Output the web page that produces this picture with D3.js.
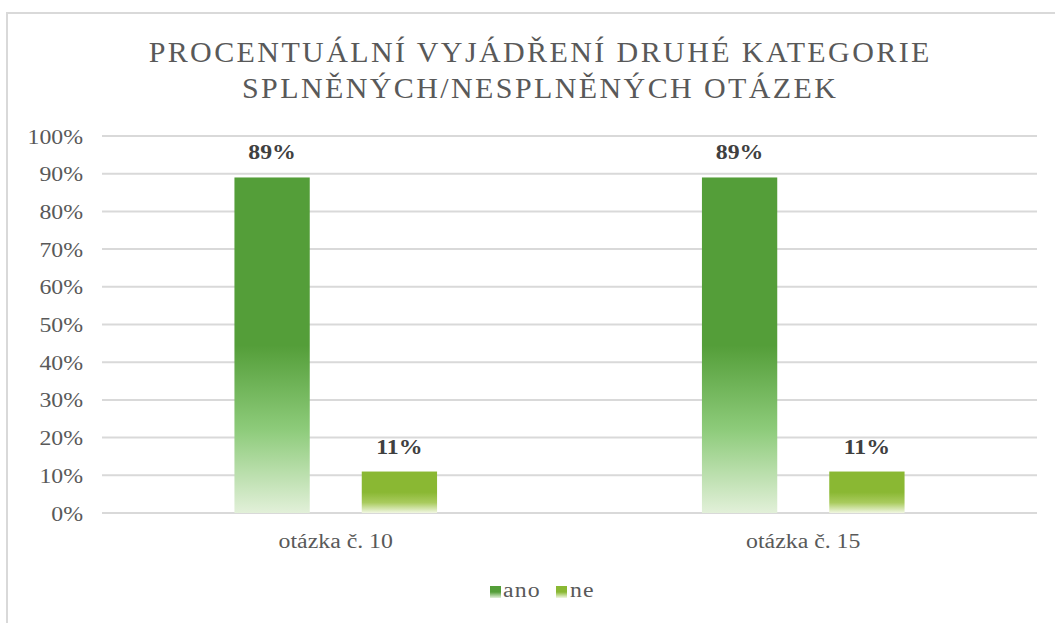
<!DOCTYPE html>
<html><head><meta charset="utf-8">
<script src="https://cdn.jsdelivr.net/npm/d3@7"></script>
<style>body{margin:0;background:#fff}svg{display:block}text{font-family:"Liberation Serif","Times New Roman",serif}</style>
</head><body>
<svg id="c" width="1055" height="623"></svg>
<script>
const categories = ["otázka č. 10", "otázka č. 15"];
const seriesNames = ["ano", "ne"];
const ano = [0.89, 0.89];
const ne = [0.11, 0.11];
const yTicks = [0, 0.1, 0.2, 0.3, 0.4, 0.5, 0.6, 0.7, 0.8, 0.9, 1.0];
const titleLines = ["PROCENTUÁLNÍ VYJÁDŘENÍ DRUHÉ KATEGORIE", "SPLNĚNÝCH/NESPLNĚNÝCH OTÁZEK"];

(function(){
const colors = {ano: "#549E39", ne: "#8AB833"};
const light = {ano: "#E2F0D9", ne: "#F1F7E2"};
const svg = d3.select("#c");
const W = 1055, H = 623;
const FF = "'Liberation Serif','Times New Roman',serif";
const SX = 1.19;

svg.append("path").attr("d", `M7,${H} V13 H${W}`).attr("fill","none").attr("stroke","#d9d9d9").attr("stroke-width",2);

const defs = svg.append("defs");
seriesNames.forEach(s => {
  const g = defs.append("linearGradient").attr("id","g_"+s).attr("x1",0).attr("y1",0).attr("x2",0).attr("y2",1);
  g.append("stop").attr("offset","0%").attr("stop-color",colors[s]);
  g.append("stop").attr("offset","50%").attr("stop-color",colors[s]);
  g.append("stop").attr("offset","75%").attr("stop-color", s==="ano" ? "#8DCB7A" : "#A9CB5E");
  g.append("stop").attr("offset","100%").attr("stop-color",light[s]);
  const gl = defs.append("linearGradient").attr("id","gl_"+s).attr("x1",0).attr("y1",0).attr("x2",0).attr("y2",1);
  gl.append("stop").attr("offset","0%").attr("stop-color",colors[s]);
  gl.append("stop").attr("offset","50%").attr("stop-color",colors[s]);
  gl.append("stop").attr("offset","100%").attr("stop-color",light[s]);
});

[62, 98].forEach((yy, i) => {
  svg.append("text").attr("x", 539 + 1.2).attr("y", yy).attr("text-anchor","middle")
    .attr("fill","#595959").style("font-family",FF).style("font-size","30px").style("letter-spacing","2.4px").text(titleLines[i]);
});

const pLeft = 102, pRight = 1037, pTop = 136, pBottom = 513;
const y = d3.scaleLinear().domain([0,1]).range([pBottom, pTop]);
const x0 = d3.scaleBand().domain(categories).range([pLeft, pRight]).paddingInner(0.5666).paddingOuter(0.2833);
const x1 = d3.scaleBand().domain(seriesNames).range([0, x0.bandwidth()]).paddingInner(0.4085);

svg.append("g").selectAll("line").data(yTicks).join("line")
  .attr("x1", pLeft).attr("x2", pRight).attr("y1", d=>y(d)).attr("y2", d=>y(d))
  .attr("stroke","#d9d9d9").attr("stroke-width",2);

const yAxis = d3.axisLeft(y).tickValues(yTicks).tickFormat(d3.format(".0%")).tickSize(0).tickPadding(0);
const ga = svg.append("g").attr("transform",`translate(83,0)`).call(yAxis);
ga.select(".domain").remove();
ga.selectAll("text").attr("fill","#595959").style("font-size","20px")
  .style("font-family",FF).attr("dy","0.35em").attr("transform",`scale(${SX},1)`);

const xAxis = d3.axisBottom(x0).tickSize(0).tickPadding(0);
const gx = svg.append("g").attr("transform",`translate(0,${pBottom})`).call(xAxis);
gx.select(".domain").remove();
gx.selectAll("text").attr("fill","#595959").attr("y", 35).attr("dy", 0).style("font-size","20px")
  .style("font-family",FF).attr("transform",`scale(${SX},1)`);

const data = categories.map((c,i)=>({cat:c, vals:[{s:"ano", v:ano[i]},{s:"ne", v:ne[i]}]}));
const groups = svg.append("g").selectAll("g").data(data).join("g").attr("transform", d=>`translate(${x0(d.cat)},0)`);
groups.selectAll("rect").data(d=>d.vals).join("rect")
  .attr("x", d=>x1(d.s)).attr("width", x1.bandwidth())
  .attr("y", d=>y(d.v)).attr("height", d=>pBottom - y(d.v))
  .attr("fill", d=>`url(#g_${d.s})`);
groups.selectAll("text").data(d=>d.vals).join("text")
  .attr("transform", d=>`translate(${x1(d.s)+x1.bandwidth()/2},${y(d.v)-18}) scale(${SX},1)`)
  .attr("text-anchor","middle").attr("fill","#404040").style("font-weight","bold")
  .style("font-family",FF).style("font-size","20px")
  .text(d=>d3.format(".0%")(d.v));

const leg = svg.append("g");
const legItems = [{s:"ano", x:490, tx:503},{s:"ne", x:556, tx:570}];
legItems.forEach(it=>{
  leg.append("rect").attr("x",it.x).attr("y",586).attr("width",11).attr("height",12).attr("fill",`url(#gl_${it.s})`);
  leg.append("text").attr("transform",`translate(${it.tx},597) scale(${SX},1)`).attr("fill","#595959").style("font-family",FF)
    .style("font-size","20px").style("letter-spacing","1px").text(it.s);
});
})();
</script>
</body></html>
